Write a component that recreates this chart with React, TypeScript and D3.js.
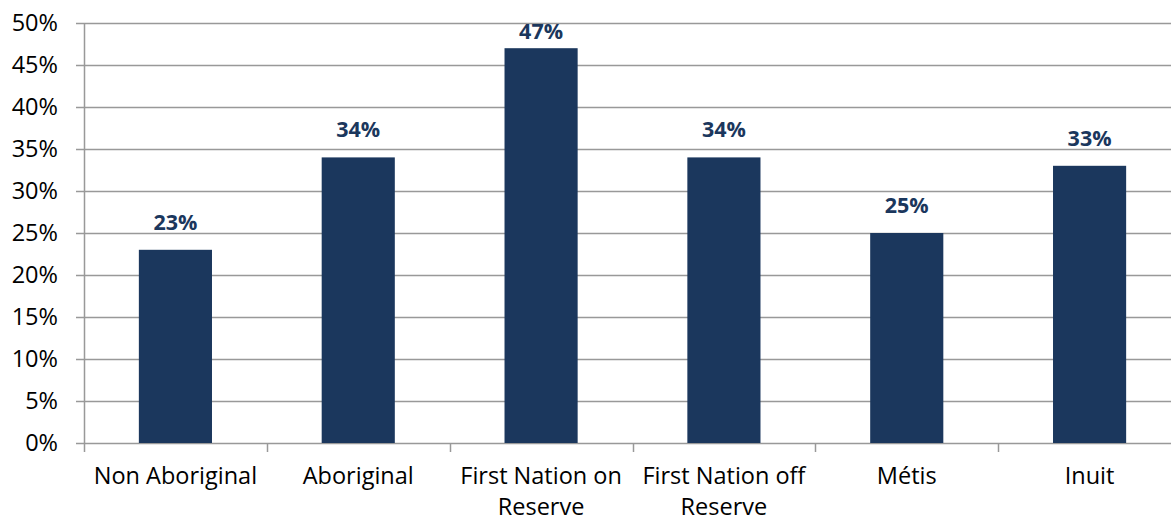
import React, { useEffect, useRef } from 'react'
import * as d3 from 'd3'

const categories = ['Non Aboriginal', 'Aboriginal', 'First Nation on Reserve', 'First Nation off Reserve', 'Métis', 'Inuit']
const labelLines = [['Non Aboriginal'], ['Aboriginal'], ['First Nation on', 'Reserve'], ['First Nation off', 'Reserve'], ['Métis'], ['Inuit']]
const values = [0.23, 0.34, 0.47, 0.34, 0.25, 0.33]
const yTicks = [0, 0.05, 0.1, 0.15, 0.2, 0.25, 0.3, 0.35, 0.4, 0.45, 0.5]

const width = 1171
const height = 521
const barColor = '#1b375d'
const gridColor = '#999999'
const font = '"Open Sans", "DejaVu Sans", sans-serif'

export default function App() {
  const svgRef = useRef<SVGSVGElement>(null)

  useEffect(() => {
    if (!svgRef.current) return
    const svg = d3.select(svgRef.current)
    svg.selectAll('*').remove()

    // plot area runs past the right edge of the picture (cropped)
    const x = d3.scaleBand<string>()
      .domain(categories)
      .range([84, 1181])
      .paddingInner(0.6)
      .paddingOuter(0.3)

    const y = d3.scaleLinear().domain([0, 0.5]).range([443, 23])
    const x0 = 84
    const step = x.step()

    // gridlines
    svg.append('g')
      .selectAll('line')
      .data(yTicks)
      .join('line')
      .attr('x1', x0 - 8)
      .attr('x2', width)
      .attr('y1', d => Math.round(y(d)) + 0.5)
      .attr('y2', d => Math.round(y(d)) + 0.5)
      .attr('stroke', gridColor)
      .attr('stroke-width', 1.5)

    // y tick labels
    svg.append('g')
      .selectAll('text')
      .data(yTicks)
      .join('text')
      .attr('x', 58)
      .attr('y', d => y(d))
      .attr('dy', '0.36em')
      .attr('text-anchor', 'end')
      .attr('font-family', font)
      .attr('font-size', 23.5)
      .attr('fill', '#000')
      .text(d => d3.format('.0%')(d))

    // bars
    svg.append('g')
      .selectAll('rect')
      .data(values)
      .join('rect')
      .attr('x', (_, i) => x(categories[i]) as number)
      .attr('y', d => y(d))
      .attr('width', x.bandwidth())
      .attr('height', d => y(0) - y(d))
      .attr('fill', barColor)

    // vertical axis line
    svg.append('line')
      .attr('x1', x0 + 0.5)
      .attr('x2', x0 + 0.5)
      .attr('y1', y(0.5))
      .attr('y2', y(0) + 9)
      .attr('stroke', gridColor)
      .attr('stroke-width', 1.5)

    // x axis tick marks at category boundaries
    svg.append('g')
      .selectAll('line')
      .data(d3.range(1, categories.length + 1))
      .join('line')
      .attr('x1', i => Math.round(x0 + i * step) + 0.5)
      .attr('x2', i => Math.round(x0 + i * step) + 0.5)
      .attr('y1', y(0))
      .attr('y2', y(0) + 9)
      .attr('stroke', gridColor)
      .attr('stroke-width', 1.5)

    // data labels (clamped at top of chart)
    svg.append('g')
      .selectAll('text')
      .data(values)
      .join('text')
      .attr('x', (_, i) => (x(categories[i]) as number) + x.bandwidth() / 2)
      .attr('y', d => Math.max(y(d) - 20, 38.5))
      .attr('text-anchor', 'middle')
      .attr('font-family', font)
      .attr('font-size', 21.5)
      .attr('font-weight', 700)
      .attr('fill', barColor)
      .text(d => d3.format('.0%')(d))

    // category labels
    const cat = svg.append('g')
      .selectAll('text')
      .data(labelLines)
      .join('text')
      .attr('x', (_, i) => (x(categories[i]) as number) + x.bandwidth() / 2)
      .attr('y', 484)
      .attr('text-anchor', 'middle')
      .attr('font-family', font)
      .attr('font-size', 23.5)
      .attr('fill', '#000')

    cat.selectAll('tspan')
      .data(d => d)
      .join('tspan')
      .attr('x', function() {
        return (this.parentNode as SVGTextElement).getAttribute('x')
      })
      .attr('dy', (_, j) => (j === 0 ? 0 : 31))
      .text(d => d)
  }, [])

  return (
    <div style={{ position: 'fixed', left: 0, top: 0 }}>
      <svg ref={svgRef} width={width} height={height} style={{ display: 'block', background: '#fff' }} />
    </div>
  )
}
